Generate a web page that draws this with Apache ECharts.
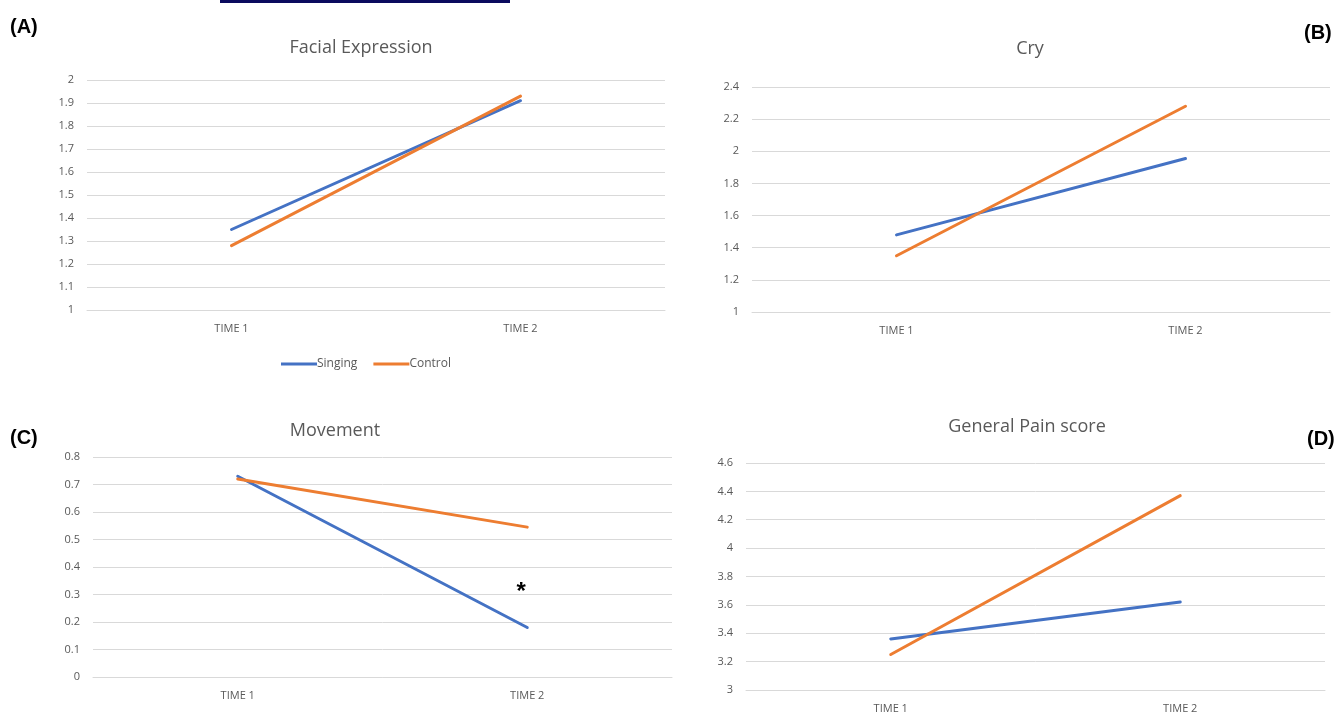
<!DOCTYPE html>
<html>
<head>
<meta charset="utf-8">
<script src="https://cdn.jsdelivr.net/npm/echarts@6/dist/echarts.min.js"></script>
<style>
  html, body { margin: 0; padding: 0; background: #fff; }
  #main { width: 1341px; height: 714px; }
  .topbar { position: absolute; left: 220px; top: 0; width: 290px; height: 3px; background: #0b0b5e; }
</style>
</head>
<body>
<div class="topbar"></div>
<div id="main"></div>
<script>
// categories
const times = ["TIME 1", "TIME 2"];

// series values per panel
const facialSinging = [1.35, 1.91];
const facialControl = [1.28, 1.93];
const crySinging = [1.48, 1.955];
const cryControl = [1.35, 2.28];
const moveSinging = [0.73, 0.18];
const moveControl = [0.72, 0.545];
const painSinging = [3.36, 3.62];
const painControl = [3.25, 4.37];

const BLUE = "#4472C4";
const ORANGE = "#ED7D31";
const GRID_LINE = "#d9d9d9";
const TEXT = "#595959";
const FONT = "'Open Sans', 'Liberation Sans', sans-serif";

const chart = echarts.init(document.getElementById("main"));

// one panel = grid + x + y
const grids = [
  { left: 87, top: 80, width: 578, height: 230 },
  { left: 752, top: 87, width: 578, height: 225 },
  { left: 93, top: 457, width: 579, height: 220 },
  { left: 746, top: 463, width: 579, height: 229 },
];

const yRanges = [
  { min: 1, max: 2, interval: 0.1 },
  { min: 1, max: 2.4, interval: 0.2 },
  { min: 0, max: 0.8, interval: 0.1 },
  { min: 3, max: 4.6, interval: 0.2 },
];

const xAxes = grids.map((g, i) => ({
  type: "category",
  gridIndex: i,
  data: times,
  boundaryGap: true,
  axisLine: { show: true, lineStyle: { color: GRID_LINE, width: 1 } },
  axisTick: { show: false },
  axisLabel: { color: TEXT, fontSize: 11, fontFamily: FONT, margin: 13 },
}));

const yAxes = yRanges.map((r, i) => ({
  type: "value",
  gridIndex: i,
  min: r.min,
  max: r.max,
  interval: r.interval,
  axisLine: { show: false },
  axisTick: { show: false },
  splitLine: { lineStyle: { color: GRID_LINE, width: 1 } },
  axisLabel: {
    color: TEXT,
    fontSize: 11,
    fontFamily: FONT,
    margin: 13,
    formatter: (v) => String(Math.round(v * 10) / 10),
  },
}));

function lineSeries(name, data, color, idx, extra) {
  return Object.assign({
    name: name,
    type: "line",
    xAxisIndex: idx,
    yAxisIndex: idx,
    data: data,
    symbol: "none",
    lineStyle: { color: color, width: 3, cap: "round" },
    itemStyle: { color: color },
    silent: true,
  }, extra || {});
}

const titleStyle = { color: TEXT, fontSize: 18, fontWeight: "normal", fontFamily: FONT };
const tagStyle = { color: "#000", fontSize: 20, fontWeight: "bold", fontFamily: "'Liberation Sans', Arial, sans-serif" };

const options = {
  animation: false,
  title: [
    { text: "Facial Expression", left: 356, top: 34, textAlign: "center", textStyle: titleStyle },
    { text: "Cry", left: 1025, top: 35, textAlign: "center", textStyle: titleStyle },
    { text: "Movement", left: 330, top: 417, textAlign: "center", textStyle: titleStyle },
    { text: "General Pain score", left: 1022, top: 413, textAlign: "center", textStyle: titleStyle },
    { text: "(A)", left: 5, top: 12, textStyle: tagStyle },
    { text: "(B)", left: 1299, top: 18, textStyle: tagStyle },
    { text: "(C)", left: 5, top: 423, textStyle: tagStyle },
    { text: "(D)", left: 1302, top: 424, textStyle: tagStyle },
  ],
  legend: {
    data: ["Singing", "Control"],
    left: 276,
    top: 353,
    icon: "rect",
    itemWidth: 36,
    itemHeight: 3,
    itemGap: 16,
    textStyle: { color: TEXT, fontSize: 12, fontFamily: FONT, padding: [0, 0, 0, -5] },
  },
  grid: grids,
  xAxis: xAxes,
  yAxis: yAxes,
  series: [
    lineSeries("Singing", facialSinging, BLUE, 0),
    lineSeries("Control", facialControl, ORANGE, 0),
    lineSeries("Singing", crySinging, BLUE, 1),
    lineSeries("Control", cryControl, ORANGE, 1),
    lineSeries("Singing", moveSinging, BLUE, 2, {
      markPoint: {
        symbol: "circle",
        symbolSize: 1,
        itemStyle: { color: "rgba(0,0,0,0)" },
        data: [{ coord: ["TIME 2", 0.33] }],
        label: { show: true, position: "inside", formatter: "*", color: "#000", fontSize: 24, fontWeight: "bold", offset: [-6, 6] },
      },
    }),
    lineSeries("Control", moveControl, ORANGE, 2),
    lineSeries("Singing", painSinging, BLUE, 3),
    lineSeries("Control", painControl, ORANGE, 3),
  ],
};

chart.setOption(options);
window.addEventListener("resize", () => chart.resize());
</script>
</body>
</html>
